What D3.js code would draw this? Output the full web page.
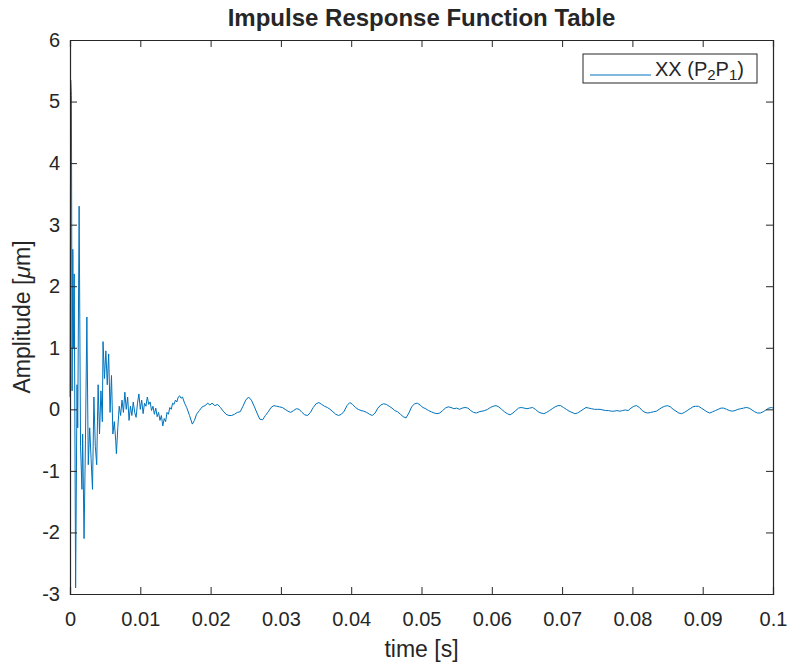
<!DOCTYPE html>
<html>
<head>
<meta charset="utf-8">
<script src="https://cdn.jsdelivr.net/npm/d3@7"></script>
<style>
  body { margin: 0; background: #fff; }
  text { font-family: "Liberation Sans", Arial, sans-serif; fill: #262626; }
</style>
</head>
<body>
<div id="chart"></div>
<script>
// Dados: tempo (s) e amplitude (µm)
const time = [
  0, 0.0001, 0.0002, 0.0003, 0.0004, 0.0005, 0.0006, 0.0008, 0.0010, 0.0011,
  0.0013, 0.0015, 0.0017, 0.0018, 0.0020, 0.0022, 0.0024, 0.0026, 0.0028, 0.0030,
  0.0032, 0.0034, 0.0036, 0.0038, 0.0040, 0.0042, 0.0044, 0.0046, 0.0047, 0.0049,
  0.0051, 0.0053, 0.0055, 0.0057, 0.0059, 0.0061, 0.0063, 0.0065, 0.0066, 0.0068,
  0.0070, 0.0072, 0.0074, 0.0076, 0.0078, 0.0080, 0.0082, 0.0084, 0.0086, 0.0088,
  0.0090, 0.0092, 0.0094, 0.0096, 0.0098, 0.0100, 0.0102, 0.0104, 0.0106, 0.0108,
  0.0110, 0.0112, 0.0114, 0.0116, 0.0118, 0.0120, 0.0122, 0.0124, 0.0126, 0.0128,
  0.0130, 0.0132, 0.0134, 0.0136, 0.0138, 0.0140, 0.0142, 0.0144, 0.0146, 0.0148,
  0.0150, 0.0152, 0.0154, 0.0156, 0.0158, 0.0160, 0.0163, 0.0166, 0.0170, 0.0174,
  0.0177, 0.0180, 0.0184, 0.0188, 0.0192, 0.0196, 0.0199, 0.0202, 0.0206, 0.0210,
  0.0214, 0.0218, 0.0222, 0.0226, 0.0230, 0.0234, 0.0238, 0.0242, 0.0246, 0.0250,
  0.0254, 0.0258, 0.0262, 0.0266, 0.0270, 0.0274, 0.0278, 0.0282, 0.0286, 0.0290,
  0.0294, 0.0298, 0.0302, 0.0306, 0.0310, 0.0314, 0.0318, 0.0322, 0.0326, 0.0330,
  0.0334, 0.0338, 0.0342, 0.0346, 0.0350, 0.0354, 0.0358, 0.0362, 0.0366, 0.0370,
  0.0374, 0.0378, 0.0382, 0.0386, 0.0390, 0.0394, 0.0398, 0.0402, 0.0406, 0.0410,
  0.0414, 0.0418, 0.0422, 0.0426, 0.0430, 0.0434, 0.0438, 0.0442, 0.0446, 0.0450,
  0.0454, 0.0458, 0.0462, 0.0466, 0.0470, 0.0474, 0.0478, 0.0482, 0.0486, 0.0490,
  0.0494, 0.0498, 0.0502, 0.0506, 0.0510, 0.0514, 0.0518, 0.0522, 0.0526, 0.0530,
  0.0534, 0.0538, 0.0542, 0.0546, 0.0550, 0.0554, 0.0558, 0.0562, 0.0566, 0.0570,
  0.0574, 0.0578, 0.0582, 0.0586, 0.0590, 0.0594, 0.0598, 0.0602, 0.0606, 0.0610,
  0.0614, 0.0618, 0.0622, 0.0626, 0.0630, 0.0634, 0.0638, 0.0642, 0.0646, 0.0650,
  0.0654, 0.0658, 0.0662, 0.0666, 0.0670, 0.0674, 0.0678, 0.0682, 0.0686, 0.0690,
  0.0694, 0.0698, 0.0702, 0.0706, 0.0710, 0.0714, 0.0718, 0.0722, 0.0726, 0.0730,
  0.0734, 0.0738, 0.0742, 0.0746, 0.0750, 0.0754, 0.0758, 0.0762, 0.0766, 0.0770,
  0.0774, 0.0778, 0.0782, 0.0786, 0.0790, 0.0794, 0.0798, 0.0802, 0.0806, 0.0810,
  0.0814, 0.0818, 0.0822, 0.0826, 0.0830, 0.0834, 0.0838, 0.0842, 0.0846, 0.0850,
  0.0854, 0.0858, 0.0862, 0.0866, 0.0870, 0.0874, 0.0878, 0.0882, 0.0886, 0.0890,
  0.0894, 0.0898, 0.0902, 0.0906, 0.0910, 0.0914, 0.0918, 0.0922, 0.0926, 0.0930,
  0.0934, 0.0938, 0.0942, 0.0946, 0.0950, 0.0954, 0.0958, 0.0962, 0.0966, 0.0970,
  0.0974, 0.0978, 0.0982, 0.0986, 0.0990, 0.0994, 0.0998, 0.1000
];

const amplitude = [
  0.2, 5.35, 5.1, 0.3, 2.6, 1.0, 2.2, -2.9, 0.4, -0.3,
  3.3, -0.6, -1.3, -0.4, -2.1, -0.5, 1.5, -0.9, -0.3, -0.8,
  -1.3, 0.2, -0.6, -0.9, 0.4, -0.4, 0.3, -0.2, 1.1, 0.5,
  0.95, 0.4, 0.9, -0.05, 0.55, -0.4, -0.2, -0.5, -0.72, -0.3,
  0.05, -0.1, 0.15, -0.05, 0.28, 0.0, 0.2, -0.18, 0.05, -0.1,
  0.12, -0.05, -0.13, 0.1, 0.25, 0.0, 0.15, -0.07, 0.1, 0.05,
  0.2, 0.08, 0.12, -0.02, 0.05, -0.08, 0.02, -0.12, -0.05, -0.18,
  -0.1, -0.27, -0.15, -0.2, -0.05, -0.08, 0.03, 0.0, 0.1, 0.08,
  0.15, 0.12, 0.2, 0.22, 0.18, 0.2, 0.1, 0.03, -0.1, -0.24,
  -0.18, -0.08, -0.02, 0.04, 0.06, 0.1, 0.07, 0.1, 0.06, 0.08,
  0.03, -0.03, -0.08, -0.1, -0.1, -0.08, -0.05, -0.04, 0.05, 0.15,
  0.2, 0.15, 0.05, -0.06, -0.16, -0.17, -0.1, -0.04, 0.03, 0.06,
  0.05, 0.04, 0.03, 0.0, -0.03, -0.05, -0.02, 0.01, 0.0, -0.05,
  -0.09, -0.1, -0.05, 0.03, 0.09, 0.11, 0.08, 0.05, 0.03, 0.0,
  -0.04, -0.08, -0.1, -0.08, -0.03, 0.06, 0.11, 0.08, 0.03, 0.0,
  -0.02, -0.03, -0.05, -0.08, -0.1, -0.06, 0.02, 0.07, 0.09, 0.08,
  0.05, 0.02, -0.02, -0.04, -0.08, -0.12, -0.14, -0.06, 0.04, 0.09,
  0.1, 0.07, 0.03, 0.01, -0.02, -0.04, -0.06, -0.07, -0.06, -0.02,
  0.02, 0.04, 0.03, 0.01, 0.02, 0.0, 0.02, 0.03, 0.02, -0.02,
  -0.05, -0.06, -0.04, -0.03, -0.02, 0.0, 0.03, 0.05, 0.06, 0.04,
  0.0, -0.04, -0.07, -0.09, -0.06, -0.02, 0.02, 0.03, 0.02, 0.01,
  0.02, 0.03, 0.0, -0.04, -0.06, -0.07, -0.05, -0.02, 0.01, 0.04,
  0.06, 0.06, 0.03, 0.0, -0.03, -0.05, -0.07, -0.06, -0.03, 0.0,
  0.03, 0.02, 0.01, 0.0, 0.0, 0.0, -0.01, -0.02, -0.02, -0.03,
  -0.03, -0.02, -0.03, -0.02, -0.01, -0.02, 0.02, 0.05, 0.06, 0.03,
  -0.02, -0.05, -0.06, -0.05, -0.04, -0.03, 0.0, 0.03, 0.05, 0.06,
  0.04, 0.0, -0.03, -0.06, -0.07, -0.05, -0.02, 0.01, 0.04, 0.05,
  0.05, 0.02, -0.01, -0.04, -0.06, -0.04, -0.02, 0.0, 0.02, 0.02,
  0.0, -0.02, -0.03, -0.02, 0.0, 0.01, 0.02, 0.03, 0.02, -0.01,
  -0.04, -0.06, -0.06, -0.04, -0.01, 0.02, 0.03, 0.02
];

const xTicks = [0, 0.01, 0.02, 0.03, 0.04, 0.05, 0.06, 0.07, 0.08, 0.09, 0.1];
const yTicks = [-3, -2, -1, 0, 1, 2, 3, 4, 5, 6];

const n = Math.min(time.length, amplitude.length);
const data = time.slice(0, n).map((t, i) => ({ t: t, a: amplitude[i] }));

// Definições do gráfico
const W = 790, H = 666;
const margin = { top: 40, right: 17, bottom: 72, left: 70 };
const width = W - margin.left - margin.right;
const height = H - margin.top - margin.bottom;
const axisColor = "#262626";
const lineColor = "#0072BD";

const svg = d3.select("#chart")
    .append("svg")
    .attr("width", W)
    .attr("height", H);

const g = svg.append("g")
    .attr("transform", `translate(${margin.left},${margin.top})`);

// Escalas
const xScale = d3.scaleLinear().domain([0, 0.1]).range([0, width]);
const yScale = d3.scaleLinear().domain([-3, 6]).range([height, 0]);

// Linha
const line = d3.line()
    .x(d => xScale(d.t))
    .y(d => yScale(d.a));

g.append("path")
    .datum(data)
    .attr("fill", "none")
    .attr("stroke", lineColor)
    .attr("stroke-width", 1)
    .attr("stroke-linejoin", "round")
    .attr("d", line);

// Eixos (estilo MATLAB: ticks para dentro nos quatro lados)
const fmt = d => String(+d.toFixed(2));

const xAxis = g.append("g")
    .attr("transform", `translate(0,${height})`)
    .call(d3.axisBottom(xScale).tickValues(xTicks).tickSize(-7).tickPadding(18).tickFormat(fmt));

const xAxisTop = g.append("g")
    .call(d3.axisTop(xScale).tickValues(xTicks).tickSize(-7).tickFormat(""));

const yAxis = g.append("g")
    .call(d3.axisLeft(yScale).tickValues(yTicks).tickSize(-7).tickPadding(10).tickFormat(fmt));

const yAxisRight = g.append("g")
    .attr("transform", `translate(${width},0)`)
    .call(d3.axisRight(yScale).tickValues(yTicks).tickSize(-7).tickFormat(""));

[xAxis, xAxisTop, yAxis, yAxisRight].forEach(a => {
    a.select(".domain").attr("stroke", axisColor).attr("stroke-width", 1.2);
    a.selectAll(".tick line").attr("stroke", axisColor).attr("stroke-width", 1);
    a.selectAll(".tick text")
        .style("font-family", "'Liberation Sans', Arial, sans-serif")
        .style("font-size", "20px")
        .attr("fill", axisColor);
});

// Título
svg.append("text")
    .attr("x", margin.left + width / 2)
    .attr("y", 26)
    .attr("text-anchor", "middle")
    .style("font-size", "24px")
    .style("font-weight", "bold")
    .attr("fill", "#000")
    .text("Impulse Response Function Table");

// Labels dos eixos
svg.append("text")
    .attr("x", margin.left + width / 2)
    .attr("y", 657)
    .attr("text-anchor", "middle")
    .style("font-size", "23px")
    .text("time [s]");

const yLab = svg.append("text")
    .attr("transform", `translate(30,${margin.top + height / 2}) rotate(-90)`)
    .attr("text-anchor", "middle")
    .style("font-size", "23px");
yLab.append("tspan").text("Amplitude [");
yLab.append("tspan").style("font-style", "italic").text("\u03BC");
yLab.append("tspan").text("m]");

// Legenda
const leg = g.append("g").attr("transform", `translate(${width - 190},14)`);
leg.append("rect")
    .attr("width", 174)
    .attr("height", 29)
    .attr("fill", "#fff")
    .attr("stroke", axisColor)
    .attr("stroke-width", 1);
leg.append("line")
    .attr("x1", 7).attr("x2", 68)
    .attr("y1", 21).attr("y2", 21)
    .attr("stroke", lineColor)
    .attr("stroke-width", 1);
const legText = leg.append("text")
    .attr("x", 72)
    .attr("y", 22)
    .style("font-size", "20px");
legText.append("tspan").text("XX (P");
legText.append("tspan").attr("dy", 4).style("font-size", "15px").text("2");
legText.append("tspan").attr("dy", -4).text("P");
legText.append("tspan").attr("dy", 4).style("font-size", "15px").text("1");
legText.append("tspan").attr("dy", -4).text(")");
</script>
</body>
</html>
